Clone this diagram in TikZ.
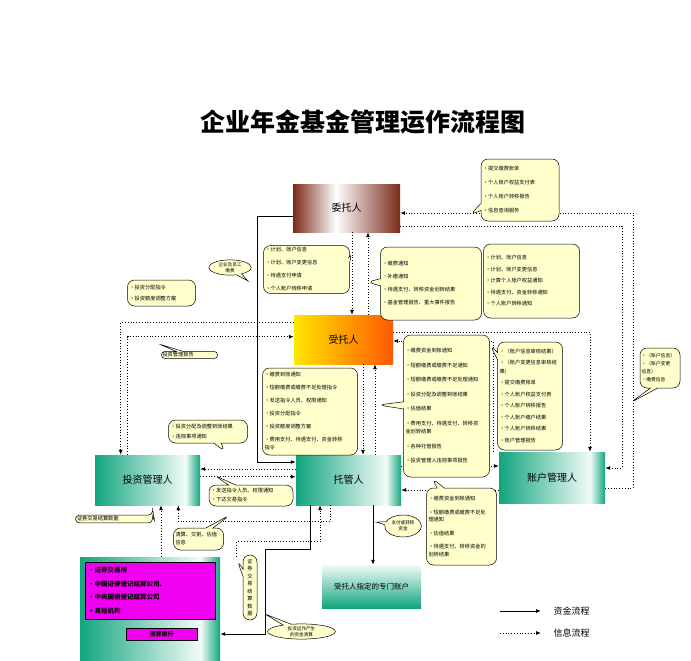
\documentclass[tikz,border=0pt]{standalone}
\usepackage{fontspec}
\setmainfont{Noto Sans CJK SC}
\usetikzlibrary{shapes.callouts,shapes.geometric,arrows.meta}
\definecolor{callfill}{HTML}{FFFFCC}
\definecolor{teal1}{HTML}{12A57E}
\definecolor{teal0}{HTML}{F2FBF8}
\definecolor{brown1}{HTML}{7A2A18}
\definecolor{mag}{HTML}{F000F0}
\pgfdeclarehorizontalshading{greensh}{100bp}{color(0bp)=(teal1); color(25bp)=(teal1); color(68bp)=(teal0); color(75bp)=(teal1); color(100bp)=(teal1)}
\pgfdeclarehorizontalshading{brownsh}{100bp}{color(0bp)=(brown1); color(25bp)=(brown1); color(45bp)=(white); color(75bp)=(brown1); color(100bp)=(brown1)}
\tikzset{
  box/.style={draw=none, minimum width=106pt, minimum height=48pt, font=\fontsize{10}{12}\selectfont},
  greenbox/.style={box, shading=greensh},
  call/.style={draw=black, line width=0.5pt, fill=callfill, rectangle callout, rounded corners=7pt, align=left, inner sep=2pt, font=\fontsize{5.2}{13}\selectfont},
  ecall/.style={draw=black, line width=0.5pt, fill=callfill, ellipse callout, align=center, inner sep=0pt, font=\fontsize{4.6}{6.5}\selectfont},
  rbox/.style={draw=black, line width=0.5pt, fill=callfill, rounded corners=7pt, align=left, inner sep=2pt, font=\fontsize{5.2}{13}\selectfont},
  fund/.style={line width=0.9pt, -{Latex[length=5pt,width=4pt]}},
  info/.style={line width=0.8pt, dotted, -{Latex[length=5pt,width=4pt]}},
}
\begin{document}
\begin{tikzpicture}[x=1pt,y=-1pt]
\useasboundingbox (0,0) rectangle (691,661);
\fill[white] (0,0) rectangle (691,661);
% title
\node[font=\fontsize{25}{28}\selectfont\bfseries] (title) at (363,122) {企业年金基金管理运作流程图};

% main boxes
\node[box, shading=brownsh, minimum width=107pt] (wt) at (346.5,208) {委托人};
\node[box, left color=yellow!80!orange, right color=orange!70!red, minimum width=99pt, minimum height=49pt] (st) at (343.5,339.5) {受托人};
\node[greenbox, minimum width=105pt, minimum height=50pt] (tz) at (147.5,480) {投资管理人};
\node[greenbox, minimum width=105pt, minimum height=50pt] (tg) at (348.5,480) {托管人};
\node[greenbox, minimum width=106pt, minimum height=51pt] (zh) at (552,477.5) {账户管理人};
\node[box, top color=teal0, bottom color=teal1, minimum width=99pt, minimum height=43pt, font=\fontsize{7.5}{9}\selectfont] (zm) at (371.5,586.5) {受托人指定的专门账户};
% bottom-left box
\node[box, shading=greensh, minimum width=140pt, minimum height=104pt] (qs) at (150,609) {};
\node[draw=black, line width=0.4pt, fill=mag, minimum width=130pt, minimum height=57pt, inner sep=2pt, text width=124pt, align=left, font=\fontsize{6.5}{13.5}\selectfont\bfseries] (jys) at (150,590.5) {•证券交易所\\•中国证券登记结算公司、\\•中央国债登记结算公司\\•其他机构};
\node[draw=black, line width=0.4pt, fill=mag, minimum width=71pt, minimum height=12pt, inner sep=0pt, font=\fontsize{6}{7}\selectfont\bfseries] (yh) at (161.5,634) {清算银行};

% fund flows
\coordinate (f1) at (257,216);
\coordinate (f2) at (257,462);
\draw[fund] (wt.west |- f1) -- (f1) -- (f2) -- (tg.west |- f2);
\draw[fund] (tg.south -| 373,0) -- (zm.north -| 373,0);
\coordinate (f3) at (310,549);
\coordinate (f4) at (265,549);
\coordinate (f5) at (265,634);
\draw[fund] (tg.south -| f3) -- (f3) -- (f4) -- (f5) -- (qs.east |- f5);

% info flows: 委托人 / 受托人
\draw[info] (wt.south -| 352,0) -- (st.north -| 352,0);
\draw[info] (st.north -| 368,0) -- (wt.south -| 368,0);
% 受托人 / 托管人
\draw[info] (st.south -| 363,0) -- (tg.north -| 363,0);
\draw[info] (tg.north -| 375,0) -- (st.south -| 375,0);
% 受托人 / 投资管理人
\coordinate (a1) at (120.7,322.7);
\draw[info] (st.west |- a1) -- (a1) -- (a1 |- tz.north);
\coordinate (a2) at (127.7,336.7);
\draw[info] (a2 |- tz.north) -- (a2) -- (st.west |- a2);
% 投资管理人 / 托管人
\draw[info] (tg.west |- 0,469) -- (tz.east |- 0,469);
\draw[info] (tz.east |- 0,476.7) -- (tg.west |- 0,476.7);
\coordinate (a3) at (178.3,521.7);
\draw[info] (tg.south -| 330,0) -- (330,521.7) -- (a3) -- (a3 |- tz.south);
\draw[info] (qs.north -| 161,0) -- (tz.south -| 161,0);
\coordinate (a4) at (236.7,541.7);
\draw[info] (qs.north -| a4) -- (a4) -- (320,541.7) -- (tg.south -| 320,0);
% 受托人 / 账户管理人
\coordinate (b1) at (590,332);
\draw[info] (st.east |- b1) -- (b1) -- (b1 |- zh.north);
\coordinate (b2) at (493,341);
\draw[info] (b2 |- zh.north) -- (b2) -- (st.east |- b2);
% 托管人 / 账户管理人
\draw[info] (tg.east |- 0,466) -- (zh.west |- 0,466);
\draw[info] (zh.west |- 0,490) -- (tg.east |- 0,490);
% 委托人 / 账户管理人
\coordinate (d1) at (633,213);
\coordinate (d2) at (633,488);
\draw[info] (zh.east |- d2) -- (d2) -- (d1) -- (wt.east |- d1);
\coordinate (d3) at (622,226);
\coordinate (d4) at (622,468);
\draw[info] (wt.east |- d3) -- (d3) -- (d4) -- (zh.east |- d4);

% callouts
\node[call, text width=74pt, minimum height=62pt, font=\fontsize{5.2}{14}\selectfont, callout absolute pointer={(470,215)}] (c1) at (520,190) {•提交缴费账单\\•个人账户权益支付表\\•个人账户转移报告\\•信息查询服务};
\node[call, text width=82pt, minimum height=45pt, callout absolute pointer={(352,252)}] (c2) at (306.5,269.5) {•计划、账户信息\\•计划、账户变更信息\\•待遇支付申请\\•个人账户转移申请};
\node[call, text width=97pt, minimum height=73pt, callout absolute pointer={(367,282)}] (c3) at (431,283.5) {•缴费通知\\•补缴通知\\•待遇支付、转移资金划转结果\\•基金管理报告、重大事件报告};
\node[rbox, text width=92pt, minimum height=74pt, font=\fontsize{5.2}{11.5}\selectfont] (c4) at (531.5,281) {•计划、账户信息\\•计划、账户变更信息\\•计算个人账户权益通知\\•待遇支付、资金转移通知\\•个人账户转移通知};
\node[rbox, text width=64pt, minimum height=26pt, font=\fontsize{5.2}{11}\selectfont] (c5) at (161.5,293) {•投资分配指令\\•投资额度调整方案};
\node[ecall, text width=30pt, callout absolute pointer={(248,281)}] (c6) at (230,267.5) {企业及员工\\缴费};
\node[call, text width=54pt, inner sep=1pt, rounded corners=3pt, font=\fontsize{5.2}{6}\selectfont, callout absolute pointer={(159,344)}] (c19) at (189.5,355) {投资管理报告};
\node[call, text width=82pt, minimum height=142pt, font=\fontsize{5.2}{14.5}\selectfont, callout absolute pointer={(378,405)}] (c7) at (446.5,406) {•缴费资金到账通知\\•短额缴费或缴费不足通知\\•短额缴费或缴费不足处理通知\\•投资分配及调整到账结果\\•估值结果\\•费用支付、待遇支付、转移资\\[-6pt]金划转结果\\•各种托管报告\\•投资管理人违规事项报告};
\node[call, text width=61pt, minimum height=108pt, font=\fontsize{5.2}{11.5}\selectfont, callout absolute pointer={(490,345)}] (c8) at (530,396) {•（账户信息审核结果）\\•（账户变更信息审核结\\[-3pt]果）\\•提交缴费账单\\•个人账户权益支付表\\•个人账户转移报告\\•个人账户缴户结果\\•个人账户转移结果\\•账户管理报告};
\node[rbox, text width=91pt, minimum height=87pt] (c9) at (310,411.5) {•缴费到账通知\\•短额缴费或缴费不足处理指令\\•发送指令人员、权限通知\\•投资分配指令\\•投资额度调整方案\\•费用支付、待遇支付、资金转移\\[-5pt]指令};
\node[call, text width=37pt, inner sep=1.5pt, minimum height=40pt, font=\fontsize{4.8}{8}\selectfont, callout absolute pointer={(630,403)}] (c10) at (660,368) {•（账户信息）\\•（账户变更\\信息）\\•缴费信息};
\node[call, text width=75pt, minimum height=23pt, font=\fontsize{5.2}{10}\selectfont, callout absolute pointer={(225,452)}] (c11) at (208,431.5) {•投资分配及调整到账结果\\•违规事项通知};
\node[ecall, text width=26pt, minimum height=22pt, callout absolute pointer={(376,522)}] (c12) at (403,526) {支付或转移\\资金};
\node[call, text width=66pt, minimum height=77pt, font=\fontsize{5.2}{7.5}\selectfont, callout absolute pointer={(432,478)}] (c13) at (461.5,526.5) {•缴费资金到账通知\\[6pt]•短额缴费或缴费不足处\\理通知\\[6pt]•估值结果\\[6pt]•待遇支付、转移资金的\\划转结果};
\node[call, text width=80pt, minimum height=21pt, font=\fontsize{5.2}{9}\selectfont, callout absolute pointer={(214,475)}] (c14) at (251,495.5) {•发送指令人员、权限通知\\•下达交易指令};
\node[call, text width=74pt, inner sep=1.5pt, rounded corners=4pt, font=\fontsize{5.2}{6}\selectfont, callout absolute pointer={(155,523)}] (c15) at (114,519) {证券交易结算数据};
\node[call, text width=46pt, minimum height=22pt, font=\fontsize{5.2}{8}\selectfont, callout absolute pointer={(230,515)}] (c16) at (198.5,539) {清算、交割、估值\\信息};
\node[call, text width=10pt, align=center, minimum height=65pt, font=\fontsize{5.2}{7.5}\selectfont, callout absolute pointer={(237,560)}] (c17) at (250,587.5) {证\\券\\交\\易\\结\\算\\数\\据};
\node[ecall, text width=48pt, callout absolute pointer={(265,614)}] (c18) at (301.5,631.5) {投资运作产生\\的资金清算};

% legend
\coordinate (l1) at (500,611);
\coordinate (l2) at (541,611);
\coordinate (l3) at (500,633);
\coordinate (l4) at (541,633);
\draw[fund] (l1) -- (l2);
\draw[info] (l3) -- (l4);
\node[anchor=west, font=\fontsize{9}{10}\selectfont] (lt1) at (550,611) {资金流程};
\node[anchor=west, font=\fontsize{9}{10}\selectfont] (lt2) at (550,633) {信息流程};
\end{tikzpicture}
\end{document}
